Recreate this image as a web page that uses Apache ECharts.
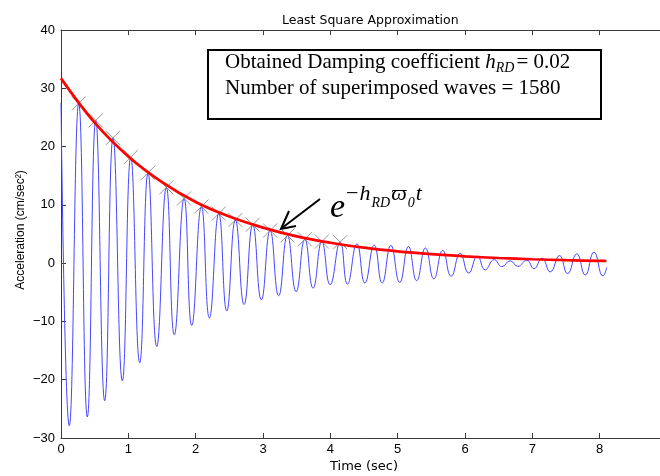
<!DOCTYPE html>
<html><head><meta charset="utf-8">
<script src="https://cdn.jsdelivr.net/npm/echarts@6/dist/echarts.min.js"></script>
<style>html,body{margin:0;padding:0;background:#fff}#c{width:660px;height:476px}</style>
</head><body><div id="c"></div>
<script>
// Oscillating acceleration record: successive peaks / troughs (sec, cm/sec^2)
const signalTime = [0, 0.123, 0.263, 0.391, 0.516, 0.649, 0.773, 0.911, 1.036, 1.169, 1.293, 1.422, 1.565, 1.683, 1.828, 1.942, 2.085, 2.204, 2.343, 2.462, 2.590, 2.719, 2.848, 2.976, 3.106, 3.233, 3.363, 3.492, 3.621, 3.744, 3.874, 3.997, 4.146, 4.254, 4.394, 4.513, 4.651, 4.770, 4.899, 5.030, 5.160, 5.282, 5.413, 5.538, 5.669, 5.795, 5.929, 6.055, 6.186, 6.300, 6.434, 6.548, 6.672, 6.783, 6.917, 7.024, 7.143, 7.266, 7.403, 7.523, 7.660, 7.786, 7.915, 8.049, 8.106];
const signalValue = [27.5, -27.9, 27.4, -26.4, 24.5, -23.6, 21.5, -20.2, 18.2, -17.1, 15.5, -14.3, 13.0, -12.3, 11.1, -10.7, 9.7, -9.4, 8.5, -8.2, 7.4, -7.1, 6.6, -6.3, 5.6, -5.6, 4.75, -4.9, 4.1, -4.3, 3.7, -3.7, 3.6, -3.6, 3.3, -3.4, 3.1, -3.4, 3.05, -3.3, 2.85, -3.0, 2.6, -2.7, 2.2, -2.25, 1.7, -1.7, 1.2, -1.15, 0.6, -0.6, 0.4, -0.55, 0.5, -0.95, 0.85, -1.5, 1.3, -1.8, 1.6, -2.05, 1.9, -2.2, -0.7];
// Peaks marked with x
const peakTime = [0.263, 0.516, 0.773, 1.036, 1.293, 1.565, 1.828, 2.085, 2.343, 2.590, 2.848, 3.106, 3.363, 3.621, 3.874, 4.146];
const peakValue = [27.4, 24.5, 21.5, 18.2, 15.5, 13.0, 11.1, 9.7, 8.5, 7.4, 6.6, 5.6, 4.75, 4.1, 3.7, 3.6];
// Fitted envelope (red)
const fitTime = [0, 0.5, 1, 1.5, 2, 2.5, 3, 3.5, 4, 4.5, 5, 5.5, 6, 6.5, 7, 7.5, 8, 8.1];
const fitValue = [31.7, 24.1, 18.3, 13.9, 10.5, 8.0, 6.1, 4.6, 3.5, 2.66, 2.02, 1.54, 1.17, 0.88, 0.67, 0.51, 0.39, 0.37];
const titleText = 'Least Square Approximation';
const xName = 'Time (sec)';
const yName = 'Acceleration (cm/sec\u00B2)';
const boxLine1 = 'Obtained Damping coefficient ';
const boxLine1End = '= 0.02';
const boxLine2 = 'Number of superimposed waves = 1580';

const zip = (a, b) => a.map((v, i) => [v, b[i]]);
const chart = echarts.init(document.getElementById('c'), null, {renderer: 'canvas'});
const axisColor = '#3a3a3a';
const lab = {color: '#000', fontFamily: 'Liberation Sans', fontSize: 13};
const minusFmt = v => String(v).replace('-', '\u2212');
chart.setOption({
  animation: false,
  backgroundColor: '#fff',
  title: {text: titleText, left: 277, top: 9, textStyle: {fontFamily: 'DejaVu Sans', fontSize: 12.5, fontWeight: 'normal', color: '#000'}},
  grid: {left: 61, top: 30, width: 606, height: 408, containLabel: false, outerBoundsMode: 'none'},
  xAxis: [{
    type: 'value', min: 0, max: 9, interval: 1, position: 'bottom',
    name: xName, nameLocation: 'middle', nameGap: 22, nameMoveOverlap: false,
    nameTextStyle: {fontFamily: 'DejaVu Sans', fontSize: 13, color: '#000'},
    axisLine: {onZero: false, lineStyle: {color: axisColor, width: 1}},
    axisTick: {inside: true, length: 5, lineStyle: {color: axisColor}},
    axisLabel: Object.assign({margin: 5, formatter: v => v === 9 ? '' : minusFmt(v)}, lab),
    splitLine: {show: false}
  }, {
    type: 'value', min: 0, max: 9, interval: 1, position: 'top',
    axisLine: {onZero: false, lineStyle: {color: axisColor, width: 1}},
    axisTick: {inside: true, length: 5, lineStyle: {color: axisColor}},
    axisLabel: {show: false}, splitLine: {show: false}
  }],
  yAxis: [{
    type: 'value', min: -30, max: 40, interval: 10,
    name: yName, nameLocation: 'middle', nameGap: 34, nameMoveOverlap: false,
    nameTextStyle: {fontFamily: 'Liberation Sans', fontSize: 12, color: '#000', padding: [0, 0, 0, 8]},
    axisLine: {show: true, onZero: false, lineStyle: {color: axisColor, width: 1}},
    axisTick: {show: true, inside: true, length: 5, lineStyle: {color: axisColor}},
    axisLabel: Object.assign({margin: 6, formatter: minusFmt}, lab),
    splitLine: {show: false}
  }],
  series: [{
    type: 'line', data: zip(signalTime, signalValue), showSymbol: false, smooth: 0.5,
    lineStyle: {color: '#4646ff', width: 1}, z: 2
  }, {
    type: 'scatter', data: zip(peakTime, peakValue),
    symbol: 'path://M0,0L10,10M10,0L0,10', symbolSize: 14,
    itemStyle: {color: 'rgba(0,0,0,0)', borderColor: '#7a7a7a', borderWidth: 1}, z: 3
  }, {
    type: 'line', data: zip(fitTime, fitValue), showSymbol: false, smooth: 0.4,
    lineStyle: {color: '#ff0000', width: 2.7}, z: 4
  }],
  graphic: [{
    type: 'rect', z: 10,
    shape: {x: 208, y: 50, width: 393, height: 69},
    style: {fill: '#fff', stroke: '#000', lineWidth: 2}
  }, {
    type: 'text', z: 11, x: 225, y: 51,
    style: {
      text: '{n|' + boxLine1 + '}{i|h}{s|RD}{n|' + boxLine1End + '}\n{n|' + boxLine2 + '}',
      fill: '#000',
      rich: {
        n: {fontFamily: 'Liberation Serif', fontSize: 21, lineHeight: 26, verticalAlign: 'bottom', padding: [0, 0, 4, 0]},
        i: {fontFamily: 'Liberation Serif', fontStyle: 'italic', fontSize: 21, lineHeight: 26, verticalAlign: 'bottom', padding: [0, 0, 4, 0]},
        s: {fontFamily: 'Liberation Serif', fontStyle: 'italic', fontSize: 14, lineHeight: 26, verticalAlign: 'bottom', padding: [0, 2, 2, 0]}
      }
    }
  }, {
    type: 'text', z: 11, x: 330, y: 179,
    style: {
      text: '{e|e}{p|\u2212}{pi|h}{b|RD}{pi|\u03D6}{b|0}{pi|t}',
      fill: '#000',
      rich: {
        e: {fontFamily: 'Liberation Serif', fontStyle: 'italic', fontSize: 34, lineHeight: 46, verticalAlign: 'bottom', padding: [0, 1, 0, 0]},
        p: {fontFamily: 'Liberation Serif', fontSize: 22, lineHeight: 46, verticalAlign: 'bottom', padding: [0, 1, 20, 0]},
        pi: {fontFamily: 'Liberation Serif', fontStyle: 'italic', fontSize: 22, lineHeight: 46, verticalAlign: 'bottom', padding: [0, 1, 20, 0]},
        b: {fontFamily: 'Liberation Serif', fontStyle: 'italic', fontSize: 14, lineHeight: 46, verticalAlign: 'bottom', padding: [0, 1, 15, 0]}
      }
    }
  }, {
    type: 'polyline', z: 11,
    shape: {points: [[320, 199], [282, 228]]},
    style: {stroke: '#000', lineWidth: 2, fill: null}
  }, {
    type: 'polyline', z: 11,
    shape: {points: [[289, 211], [281, 229], [296, 226]]},
    style: {stroke: '#000', lineWidth: 2, fill: null}
  }]
});
</script>
</body></html>
